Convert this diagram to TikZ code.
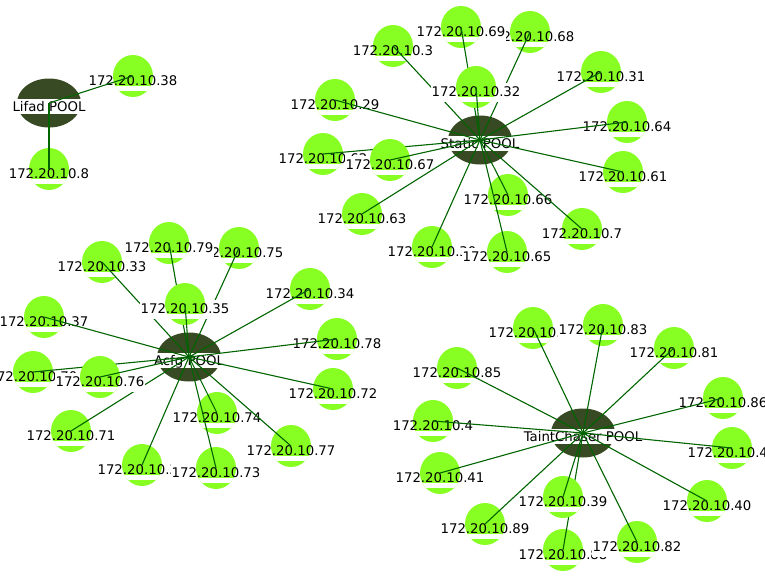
\documentclass[tikz,border=0pt]{standalone}
\usepackage{fontspec}
\setmainfont{DejaVu Sans}
\usepackage{tikz}
\usetikzlibrary{shapes.geometric}

\definecolor{hostgreen}{RGB}{136,255,34}
\definecolor{pooldark}{RGB}{55,74,35}
\definecolor{linkgreen}{RGB}{0,100,0}
\newcommand\hostfont{\fontsize{13.3}{16}\selectfont}

\tikzset{
	host/.style={ellipse, fill=hostgreen, minimum width=40, minimum height=42, inner sep=0pt,
		path picture={\fill[white] ([shift={(-25,9.5)}]path picture bounding box.center)
			rectangle ([shift={(25,15)}]path picture bounding box.center);}},
	hostbox/.style={font=\hostfont, anchor=base, fill=white, text opacity=0,
		inner xsep=1pt, inner ysep=0pt, text height=13pt, text depth=6pt},
	hosttext/.style={font=\hostfont, anchor=base, inner sep=0pt},
	pool/.style={ellipse, fill=pooldark, minimum width=64, minimum height=49, inner sep=0pt},
	pooltext/.style={font=\hostfont, anchor=base, fill=white,
		inner xsep=1pt, inner ysep=0pt, text height=12pt, text depth=3pt},
	link/.style={draw=linkgreen, line width=1.1pt}
}

\begin{document}
\begin{tikzpicture}[x=1pt, y=-1pt]
	\useasboundingbox (0,0) rectangle (765,576);

	% Lifad
	\node[pool] (lifad) at (49,103) {};
	\node[pooltext] (lifadlbl) at (49,111) {Lifad POOL};
	\foreach \x/\y/\ip [count=\i] in {133/76/38, 49/169/8}{
		\node[hostbox] (lb\i) at (\x,\y+9) {172.20.10.\ip};
		\node[host] (l\i) at (\x,\y) {};
		\node[hosttext] (lt\i) at (\x,\y+9) {172.20.10.\ip};
		\draw[link] (lifad.center) -- (l\i.center);
	}

	% Static
	\node[pool] (static) at (480,140) {};
	\node[pooltext] (staticlbl) at (480,148) {Static POOL};
	\foreach \x/\y/\ip [count=\i] in {530/32/68, 461/27/69, 393/46/3, 476/87/32, 335/100/29,
		601/72/31, 627/122/64, 623/172/61, 323/154/62, 390/160/67, 362/214/63,
		432/247/30, 508/195/66, 507/252/65, 582/229/7}{
		\node[hostbox] (sb\i) at (\x,\y+9) {172.20.10.\ip};
		\node[host] (s\i) at (\x,\y) {};
		\node[hosttext] (st\i) at (\x,\y+9) {172.20.10.\ip};
		\draw[link] (static.center) -- (s\i.center);
	}

	% Acfg
	\node[pool] (acfg) at (189,357) {};
	\node[pooltext] (acfglbl) at (189,365) {Acfg POOL};
	\foreach \x/\y/\ip [count=\i] in {239/248/75, 169/243/79, 102/262/33, 185/304/35, 310/289/34,
		337/339/78, 333/389/72, 217/413/74, 291/446/77, 142/465/36, 216/468/73,
		71/431/71, 33/372/70, 100/377/76, 44/317/37}{
		\node[hostbox] (ab\i) at (\x,\y+9) {172.20.10.\ip};
		\node[host] (a\i) at (\x,\y) {};
		\node[hosttext] (at\i) at (\x,\y+9) {172.20.10.\ip};
		\draw[link] (acfg.center) -- (a\i.center);
	}

	% TaintChaser
	\node[pool] (taint) at (583,433) {};
	\node[pooltext] (taintlbl) at (583,441) {TaintChaser POOL};
	\foreach \x/\y/\ip [count=\i] in {533/328/84, 603/325/83, 674/348/81, 723/398/86, 732/448/42,
		707/501/40, 563/550/88, 637/542/82, 563/497/39, 485/524/89, 440/473/41,
		433/421/4, 457/368/85}{
		\node[hostbox] (tb\i) at (\x,\y+9) {172.20.10.\ip};
		\node[host] (t\i) at (\x,\y) {};
		\node[hosttext] (tt\i) at (\x,\y+9) {172.20.10.\ip};
		\draw[link] (taint.center) -- (t\i.center);
	}
\end{tikzpicture}
\end{document}
